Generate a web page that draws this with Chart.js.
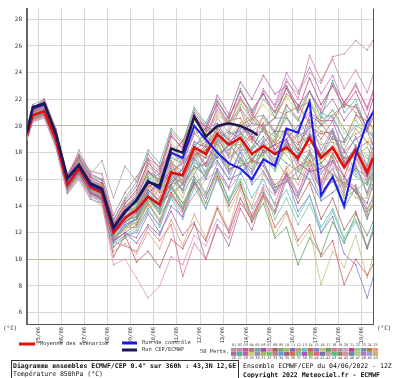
<!DOCTYPE html>
<html>
<head>
<meta charset="utf-8">
<script src="https://cdn.jsdelivr.net/npm/chart.js@4/dist/chart.umd.min.js"></script>
<style>
html, body { margin: 0; padding: 0; background: #fff; }
#myChart { display: block; }
</style>
</head>
<body>
<canvas id="myChart" width="400" height="378"></canvas>
<script>
/** échéances (heures depuis le run 04/06 12Z) */
var hours = [0, 6, 18, 30, 42, 54, 66, 78, 90, 102, 114, 126, 138, 150, 162, 174, 186, 198, 210, 222, 234, 246, 258, 270, 282, 294, 306, 318, 330, 342, 354, 360]
var cepHours = [0, 6, 18, 30, 42, 54, 66, 78, 90, 102, 114, 126, 138, 150, 162, 174, 186, 198, 210, 222, 234, 240]
/** graduations */
var dayTicks = [12, 36, 60, 84, 108, 132, 156, 180, 204, 228, 252, 276, 300, 324, 348]
var dayLabels = ['05/06', '06/06', '07/06', '08/06', '09/06', '10/06', '11/06', '12/06', '13/06', '14/06', '15/06', '16/06', '17/06', '18/06', '19/06']
var tempTicks = [6, 8, 10, 12, 14, 16, 18, 20, 22, 24, 26, 28]

/** moyenne, contrôle, CEP */
var moyenne = [19.3, 20.8, 21.1, 19.0, 15.6, 16.8, 15.4, 15.0, 12.0, 13.1, 13.7, 14.7, 14.1, 16.5, 16.3, 18.4, 17.9, 19.4, 18.6, 19.1, 17.9, 18.5, 17.9, 18.4, 17.6, 19.1, 17.6, 18.4, 16.9, 18.2, 16.5, 17.6]
var controle = [19.5, 21.3, 21.6, 19.5, 16.0, 17.0, 15.6, 15.2, 12.3, 13.5, 14.5, 15.9, 15.3, 18.0, 17.6, 20.0, 19.0, 18.0, 17.2, 16.8, 16.0, 17.5, 17.0, 19.8, 19.5, 21.8, 14.8, 16.2, 14.0, 17.8, 20.3, 21.0]
var cep = [19.6, 21.4, 21.7, 19.4, 16.1, 17.1, 15.7, 15.3, 12.4, 13.6, 14.4, 15.8, 15.5, 18.3, 18.0, 20.7, 19.2, 20.0, 20.2, 20.0, 19.6, 19.3]

/** 50 perturbations */
var pert01 = [19.4, 21.0, 21.4, 19.3, 15.9, 17.3, 15.8, 15.6, 12.5, 14.0, 14.6, 16.5, 15.8, 18.0, 17.2, 19.5, 18.4, 20.6, 19.5, 21.3, 20.2, 22.0, 21.0, 23.3, 22.4, 24.0, 23.2, 25.2, 25.4, 26.4, 25.7, 26.4]
var pert02 = [19.2, 20.9, 21.5, 19.4, 16.0, 17.5, 16.0, 15.4, 12.6, 13.8, 14.9, 17.0, 16.2, 18.6, 17.4, 20.1, 18.8, 21.5, 20.0, 22.2, 20.5, 22.8, 21.4, 23.5, 22.0, 25.3, 23.4, 25.0, 22.8, 24.2, 22.5, 23.8]
var pert03 = [19.6, 21.3, 22.0, 19.8, 16.4, 17.9, 16.4, 16.0, 13.0, 14.4, 15.5, 17.9, 16.8, 19.4, 18.2, 21.0, 19.8, 22.3, 20.9, 23.3, 22.0, 23.8, 22.4, 23.0, 21.5, 22.6, 21.0, 22.0, 20.4, 21.6, 19.8, 21.2]
var pert04 = [19.5, 21.1, 21.8, 19.6, 16.2, 17.8, 16.6, 16.4, 13.3, 15.0, 16.2, 17.5, 17.0, 17.8, 18.9, 20.5, 20.0, 19.4, 20.8, 22.0, 21.0, 19.8, 20.6, 22.4, 21.6, 20.2, 19.0, 20.4, 21.8, 21.0, 19.6, 20.6]
var pert05 = [19.1, 20.6, 21.0, 18.9, 15.4, 16.6, 15.2, 14.9, 11.8, 13.2, 13.9, 16.0, 16.4, 17.6, 17.2, 18.4, 19.6, 20.0, 18.2, 19.0, 20.6, 20.8, 19.4, 21.5, 20.6, 19.0, 20.1, 21.2, 19.8, 18.4, 17.0, 19.5]
var pert06 = [19.3, 20.8, 21.2, 19.0, 15.7, 16.9, 15.3, 15.0, 11.9, 12.8, 13.5, 15.2, 14.4, 15.6, 16.8, 18.8, 18.4, 17.6, 18.6, 20.0, 19.2, 18.0, 18.6, 19.0, 17.2, 16.6, 16.8, 17.4, 16.2, 15.0, 14.2, 15.6]
var pert07 = [19.0, 20.4, 20.6, 18.4, 15.0, 16.2, 14.8, 14.2, 9.6, 10.0, 8.6, 7.1, 8.0, 10.2, 9.6, 11.8, 11.0, 13.0, 12.2, 14.5, 13.4, 15.6, 14.8, 16.2, 15.0, 17.0, 15.4, 16.8, 15.2, 17.6, 16.0, 17.0]
var pert08 = [19.2, 20.7, 20.9, 18.8, 15.3, 16.5, 14.9, 14.5, 10.2, 11.8, 9.8, 10.6, 9.4, 11.5, 10.8, 12.6, 11.4, 13.8, 12.0, 14.6, 12.8, 15.0, 13.6, 16.4, 14.2, 15.8, 13.0, 14.6, 12.2, 13.6, 10.8, 12.0]
var pert09 = [19.6, 21.4, 21.9, 19.7, 16.1, 17.5, 15.9, 15.4, 12.4, 13.5, 14.0, 15.8, 15.2, 16.8, 15.0, 16.4, 17.8, 19.1, 18.6, 17.6, 18.4, 19.8, 19.2, 20.6, 19.6, 18.4, 17.6, 19.2, 18.2, 16.6, 15.8, 17.2]
var pert10 = [19.4, 20.9, 21.1, 19.1, 15.6, 16.7, 15.2, 14.8, 11.6, 12.4, 12.8, 14.0, 14.6, 15.6, 14.2, 15.4, 16.2, 18.4, 18.8, 17.4, 17.0, 18.0, 18.6, 17.8, 16.6, 17.2, 18.0, 17.6, 15.6, 14.6, 14.6, 16.0]
var pert11 = [19.7, 21.5, 21.6, 19.2, 15.5, 16.6, 15.0, 14.4, 11.4, 12.0, 11.2, 12.6, 11.8, 14.0, 13.2, 15.8, 14.6, 16.8, 15.4, 17.6, 16.4, 18.2, 17.0, 18.8, 17.4, 19.4, 17.8, 19.6, 17.2, 18.4, 16.2, 17.4]
var pert12 = [19.0, 20.6, 21.0, 19.2, 15.8, 17.0, 15.6, 15.3, 12.2, 13.4, 14.4, 15.9, 15.2, 16.2, 17.6, 19.6, 19.8, 18.6, 19.2, 20.2, 20.8, 19.8, 18.6, 18.2, 19.4, 20.5, 19.6, 18.8, 18.2, 19.8, 18.8, 18.8]
var pert13 = [19.3, 20.7, 21.0, 18.7, 15.1, 16.3, 14.7, 14.3, 11.0, 11.6, 12.2, 13.8, 12.4, 14.6, 13.0, 15.4, 13.8, 16.0, 14.2, 16.6, 14.6, 16.0, 14.0, 15.2, 13.2, 14.8, 12.4, 13.8, 11.6, 13.0, 10.8, 12.4]
var pert14 = [19.1, 20.5, 20.8, 18.6, 15.2, 16.4, 15.1, 14.6, 11.4, 12.0, 12.6, 14.2, 12.8, 15.0, 13.6, 15.8, 13.8, 16.2, 14.0, 15.6, 13.2, 14.8, 12.4, 13.6, 11.4, 12.6, 10.2, 11.4, 8.1, 10.0, 8.8, 9.6]
var pert15 = [19.5, 21.0, 21.3, 19.0, 15.4, 16.6, 15.0, 14.7, 11.6, 12.6, 13.0, 15.0, 14.0, 16.4, 15.2, 17.6, 16.0, 18.2, 16.4, 18.0, 15.8, 17.4, 15.0, 16.2, 13.6, 14.8, 12.0, 13.2, 10.4, 9.6, 7.1, 8.6]
var pert16 = [19.2, 20.6, 21.0, 18.8, 15.5, 16.8, 15.3, 14.9, 11.8, 12.9, 13.4, 15.4, 14.2, 16.2, 14.6, 16.8, 14.8, 16.4, 13.6, 15.2, 12.8, 14.6, 11.8, 13.4, 11.0, 12.2, 8.1, 10.6, 9.4, 11.8, 8.6, 10.2]
var pert17 = [19.4, 20.9, 21.2, 19.0, 15.6, 16.9, 15.5, 15.1, 12.1, 13.0, 13.2, 14.8, 13.4, 15.6, 13.8, 16.0, 14.2, 16.6, 14.4, 15.8, 12.8, 14.2, 11.6, 12.4, 9.6, 11.6, 10.4, 12.8, 11.2, 13.4, 11.8, 12.8]
var pert18 = [19.6, 21.2, 21.4, 19.1, 15.6, 16.7, 15.2, 14.7, 11.3, 11.0, 10.6, 12.4, 11.4, 12.6, 8.7, 11.2, 10.0, 12.4, 11.6, 14.2, 13.0, 15.4, 14.2, 16.6, 15.0, 17.4, 15.6, 18.0, 16.2, 18.6, 16.8, 18.0]
var pert19 = [19.8, 21.6, 22.0, 19.6, 16.0, 18.2, 16.4, 17.4, 14.6, 17.0, 15.8, 17.6, 15.4, 17.2, 15.6, 18.0, 16.4, 18.8, 17.0, 19.6, 17.2, 19.0, 16.8, 18.6, 16.0, 18.2, 15.6, 17.8, 15.0, 17.2, 14.8, 16.2]
var pert20 = [19.0, 20.5, 21.0, 19.0, 15.9, 17.1, 15.6, 15.2, 12.1, 13.3, 14.0, 15.6, 16.2, 17.2, 16.0, 17.4, 18.4, 19.6, 17.6, 18.2, 19.2, 18.6, 17.4, 18.8, 19.4, 19.6, 17.8, 17.0, 16.0, 17.6, 16.8, 16.8]
var pert21 = [19.5, 21.1, 21.7, 19.5, 16.2, 17.6, 16.2, 15.7, 12.7, 14.2, 15.2, 17.2, 16.4, 19.2, 18.4, 20.8, 19.6, 21.8, 20.6, 22.6, 21.2, 22.4, 21.0, 22.8, 21.2, 23.6, 21.6, 23.0, 21.4, 22.6, 20.6, 22.0]
var pert22 = [19.3, 20.8, 21.3, 19.2, 15.8, 17.0, 15.7, 15.4, 12.3, 13.6, 14.6, 16.4, 15.6, 18.2, 18.8, 20.0, 18.0, 19.0, 19.8, 21.6, 20.6, 19.6, 19.0, 21.2, 20.4, 21.6, 20.8, 19.4, 18.6, 20.4, 19.6, 19.4]
var pert23 = [19.2, 20.6, 20.9, 18.7, 15.3, 16.6, 15.2, 14.8, 11.7, 12.4, 13.2, 14.6, 13.8, 16.0, 15.2, 17.0, 16.2, 17.8, 16.6, 17.6, 15.6, 16.6, 15.0, 16.4, 14.8, 16.6, 14.6, 16.0, 13.8, 15.4, 13.0, 14.4]
var pert24 = [19.4, 21.0, 21.5, 19.3, 15.9, 17.1, 15.6, 15.2, 12.2, 13.6, 13.8, 15.4, 16.0, 17.4, 16.2, 17.8, 18.2, 19.8, 20.4, 20.6, 19.0, 18.2, 18.6, 19.8, 18.8, 19.2, 17.2, 18.2, 17.6, 17.8, 16.2, 17.0]
var pert25 = [19.1, 20.4, 20.7, 18.5, 15.0, 16.1, 14.6, 14.0, 10.6, 11.2, 10.4, 12.0, 10.8, 13.0, 11.0, 13.4, 11.6, 14.0, 12.2, 15.4, 14.0, 16.4, 15.0, 17.0, 15.6, 17.6, 16.0, 18.0, 16.2, 18.4, 16.6, 17.8]
var pert26 = [19.3, 20.8, 21.1, 18.9, 15.4, 16.6, 15.0, 14.5, 11.3, 12.0, 11.6, 13.4, 12.0, 13.6, 11.8, 12.8, 10.0, 12.6, 11.0, 13.8, 12.2, 14.8, 13.4, 16.0, 14.6, 16.8, 15.2, 17.4, 15.4, 17.0, 15.0, 16.4]
var pert27 = [19.6, 21.3, 21.8, 19.7, 16.3, 17.7, 16.3, 15.9, 12.9, 14.6, 15.8, 18.2, 17.2, 19.8, 18.8, 21.4, 20.2, 22.0, 20.4, 22.8, 21.0, 22.4, 20.6, 23.0, 21.0, 22.6, 20.6, 23.4, 21.0, 22.0, 19.6, 21.0]
var pert28 = [19.5, 21.1, 21.4, 19.0, 15.5, 16.8, 15.4, 15.1, 12.0, 13.2, 13.6, 15.6, 14.2, 15.0, 15.6, 18.2, 18.8, 19.2, 17.6, 18.4, 19.4, 19.6, 18.2, 19.4, 18.6, 20.0, 19.4, 19.6, 17.4, 18.2, 18.8, 18.2]
var pert29 = [19.2, 20.9, 21.3, 19.3, 15.9, 17.3, 15.9, 15.5, 12.4, 14.0, 14.8, 16.8, 16.0, 18.8, 17.8, 20.4, 19.4, 21.0, 20.2, 21.8, 20.4, 21.6, 20.6, 22.2, 21.0, 22.0, 20.2, 21.2, 19.4, 20.6, 18.6, 20.0]
var pert30 = [19.0, 20.3, 20.6, 18.4, 14.9, 16.0, 14.5, 14.2, 10.9, 11.8, 12.0, 13.6, 12.6, 14.8, 13.8, 16.2, 15.0, 17.2, 16.0, 18.2, 16.6, 18.8, 17.2, 19.6, 17.8, 20.4, 18.2, 19.8, 17.6, 19.2, 17.0, 18.4]
var pert31 = [19.7, 21.4, 21.8, 19.5, 16.0, 17.4, 15.8, 15.3, 12.2, 13.0, 12.6, 14.4, 15.2, 15.8, 16.4, 17.4, 18.2, 18.6, 17.0, 19.4, 18.8, 17.6, 17.0, 18.2, 17.4, 17.0, 15.6, 16.4, 15.8, 15.0, 13.4, 14.8]
var pert32 = [19.3, 20.9, 21.2, 19.0, 15.6, 16.8, 15.5, 15.0, 12.0, 13.4, 14.2, 16.2, 15.4, 15.8, 16.4, 18.6, 19.0, 19.4, 18.0, 17.2, 16.8, 18.2, 17.6, 16.2, 16.0, 18.0, 17.2, 16.2, 14.6, 15.2, 15.8, 15.2]
var pert33 = [19.4, 21.0, 21.6, 19.5, 16.1, 17.5, 16.1, 15.7, 12.6, 14.2, 15.0, 17.4, 16.6, 19.6, 18.6, 21.2, 20.0, 21.6, 20.2, 21.2, 19.0, 20.2, 18.0, 19.0, 16.8, 18.0, 15.8, 16.8, 14.8, 15.6, 13.8, 14.6]
var pert34 = [19.1, 20.6, 20.9, 18.8, 15.4, 16.6, 15.1, 14.7, 11.5, 12.6, 13.0, 14.8, 13.6, 16.0, 16.8, 17.6, 16.6, 18.8, 19.4, 19.6, 18.2, 20.0, 20.6, 20.6, 19.2, 19.8, 21.0, 20.6, 19.0, 20.0, 19.6, 19.2]
var pert35 = [19.6, 21.2, 21.5, 19.2, 15.7, 16.9, 15.4, 14.9, 11.9, 12.8, 13.4, 15.0, 15.6, 16.4, 15.6, 16.8, 17.2, 19.0, 19.6, 19.0, 17.4, 18.8, 19.6, 19.6, 18.2, 20.8, 20.2, 19.0, 18.8, 20.8, 20.4, 19.8]
var pert36 = [19.2, 20.7, 21.1, 19.1, 15.7, 17.0, 15.6, 15.3, 12.3, 13.6, 14.4, 16.0, 15.0, 15.6, 16.0, 18.0, 17.6, 18.2, 16.8, 17.0, 17.4, 17.2, 15.6, 16.2, 17.0, 17.4, 15.2, 15.8, 16.0, 15.4, 13.2, 14.0]
var pert37 = [19.0, 20.4, 20.7, 18.5, 15.1, 16.3, 14.8, 14.4, 11.2, 11.8, 12.4, 14.2, 13.0, 15.0, 14.0, 16.2, 14.8, 16.4, 14.6, 16.0, 13.8, 15.2, 13.0, 14.6, 12.6, 14.2, 12.0, 13.6, 11.4, 12.8, 11.0, 12.2]
var pert38 = [19.5, 21.0, 21.4, 19.3, 15.8, 17.2, 15.8, 15.4, 12.4, 13.8, 14.6, 16.6, 15.8, 16.6, 17.2, 19.4, 19.8, 20.2, 18.8, 19.4, 20.2, 20.0, 18.2, 19.0, 20.0, 21.0, 20.4, 20.4, 18.0, 19.0, 19.6, 18.6]
var pert39 = [19.3, 20.8, 21.1, 18.9, 15.4, 16.7, 15.3, 14.8, 11.6, 12.2, 12.8, 14.6, 13.4, 14.6, 15.8, 17.0, 16.4, 17.8, 18.6, 18.6, 17.2, 17.8, 19.0, 19.8, 18.2, 18.6, 19.6, 19.4, 17.2, 17.8, 18.4, 17.6]
var pert40 = [19.4, 20.9, 21.3, 19.1, 15.6, 16.9, 15.5, 15.1, 12.1, 13.2, 13.8, 15.8, 14.6, 17.0, 15.8, 18.2, 17.0, 19.0, 17.8, 20.2, 18.8, 20.8, 19.6, 21.6, 20.4, 22.6, 21.2, 23.2, 21.8, 23.0, 21.4, 22.6]
var pert41 = [19.1, 20.5, 20.9, 18.8, 15.3, 16.5, 15.0, 14.6, 11.4, 12.4, 13.0, 14.4, 13.8, 15.4, 14.2, 15.6, 16.4, 17.4, 16.0, 16.4, 17.4, 17.0, 15.4, 15.8, 16.6, 16.0, 14.4, 15.0, 15.8, 15.2, 13.6, 14.0]
var pert42 = [19.6, 21.3, 21.7, 19.5, 16.1, 17.4, 15.9, 15.5, 12.4, 13.8, 14.2, 16.2, 16.8, 17.8, 17.0, 18.4, 19.4, 20.8, 20.2, 21.4, 19.6, 20.2, 21.2, 20.8, 19.0, 19.6, 20.6, 20.8, 18.8, 19.4, 19.8, 19.2]
var pert43 = [19.2, 20.6, 21.0, 18.9, 15.5, 16.7, 15.3, 14.9, 11.8, 12.8, 13.2, 15.2, 14.2, 15.2, 16.4, 17.2, 17.0, 18.0, 16.8, 17.0, 17.8, 17.8, 16.6, 18.6, 18.0, 17.0, 17.2, 18.4, 17.0, 16.2, 15.6, 16.8]
var pert44 = [19.5, 21.0, 21.2, 19.0, 15.5, 16.8, 15.4, 15.0, 11.9, 13.0, 13.6, 15.4, 16.0, 17.2, 16.6, 17.6, 18.6, 19.8, 19.0, 20.0, 20.6, 19.6, 18.8, 21.0, 21.4, 21.8, 20.0, 20.8, 21.6, 21.4, 19.8, 21.0]
var pert45 = [19.0, 20.4, 20.8, 18.7, 15.3, 16.4, 14.9, 14.6, 11.5, 12.4, 12.4, 13.8, 14.4, 14.8, 13.4, 14.8, 16.0, 16.6, 15.2, 16.4, 17.6, 16.6, 15.2, 16.8, 17.8, 18.2, 16.6, 17.2, 17.6, 17.6, 15.8, 16.4]
var pert46 = [19.4, 21.1, 21.5, 19.4, 16.0, 17.3, 15.9, 15.6, 12.6, 13.9, 14.7, 16.6, 16.0, 18.0, 17.4, 18.2, 17.6, 19.6, 19.0, 18.2, 18.2, 19.2, 18.0, 17.2, 16.6, 17.8, 17.0, 16.4, 15.6, 16.8, 16.2, 16.0]
var pert47 = [19.3, 20.7, 21.0, 18.9, 15.5, 16.8, 15.5, 15.2, 12.2, 13.4, 13.6, 15.0, 15.8, 16.2, 15.2, 17.6, 18.4, 18.8, 17.2, 18.6, 20.0, 20.6, 19.4, 18.8, 18.2, 19.4, 18.8, 17.6, 17.0, 18.4, 17.8, 17.6]
var pert48 = [19.6, 21.2, 21.7, 19.6, 16.2, 17.6, 16.0, 15.5, 12.5, 14.0, 14.6, 16.6, 15.8, 18.4, 17.6, 20.4, 19.4, 21.2, 20.2, 22.0, 20.8, 22.6, 21.6, 24.0, 22.6, 24.4, 22.4, 23.8, 21.6, 23.2, 21.2, 22.4]
var pert49 = [19.2, 20.8, 21.2, 19.1, 15.7, 16.9, 15.4, 15.0, 11.9, 12.6, 13.0, 14.8, 14.0, 16.6, 17.2, 18.2, 17.2, 18.0, 18.2, 19.8, 19.4, 18.4, 17.8, 18.8, 18.2, 17.4, 16.4, 17.8, 17.2, 16.4, 15.6, 16.6]
var pert50 = [19.4, 20.9, 21.3, 19.2, 15.8, 17.0, 15.6, 15.2, 12.1, 13.2, 14.0, 15.6, 15.0, 17.2, 17.8, 18.4, 17.0, 17.6, 18.6, 18.8, 17.6, 18.4, 19.0, 18.6, 17.4, 19.4, 18.6, 18.8, 17.2, 18.2, 17.6, 17.2]

var perts = [pert01, pert02, pert03, pert04, pert05, pert06, pert07, pert08, pert09, pert10,
    pert11, pert12, pert13, pert14, pert15, pert16, pert17, pert18, pert19, pert20,
    pert21, pert22, pert23, pert24, pert25, pert26, pert27, pert28, pert29, pert30,
    pert31, pert32, pert33, pert34, pert35, pert36, pert37, pert38, pert39, pert40,
    pert41, pert42, pert43, pert44, pert45, pert46, pert47, pert48, pert49, pert50]

/** couleurs des perturbations (légende 01..50) */
var pertColors = ['#c09090', '#d080b0', '#b060a0', '#c07070', '#70a8a8', '#a050b0', '#e090c0', '#b06060', '#80a080', '#a0c060',
    '#9060c0', '#c0a060', '#60c0c0', '#d06060', '#8080d0', '#c0c080', '#60a060', '#e07090', '#a0a0a0', '#d0a0d0',
    '#c04080', '#90d090', '#7090b0', '#b08040', '#e0a080', '#a070a0', '#50b0a0', '#c06090', '#d0d060', '#9090c0',
    '#b0b060', '#70c070', '#c08080', '#60a0d0', '#a06080', '#d07040', '#80c0a0', '#b050c0', '#90b050', '#e06080',
    '#7070b0', '#c0a0a0', '#50c080', '#a08060', '#d090a0', '#6090a0', '#b0d080', '#c070d0', '#90a0d0', '#d0b070']

var meteoPage = {
    init: function () {
        Chart.defaults.font.family = '"DejaVu Sans Mono", monospace'
        meteoPage.funcs.createChart()
    },
    funcs: {
        toPoints: function (xs, ys) {
            return ys.map(function (y, i) { return { x: xs[i], y: y } })
        },
        buildDatasets: function () {
            var sets = []
            /** dataset 0 est dessiné au-dessus */
            sets.push({ label: 'Run CEP/ECMWF', data: meteoPage.funcs.toPoints(cepHours, cep), borderColor: '#1a1a50', borderWidth: 2.5, pointRadius: 0 })
            sets.push({ label: 'Run de contrôle', data: meteoPage.funcs.toPoints(hours, controle), borderColor: '#1a1ae8', borderWidth: 2, pointRadius: 0 })
            sets.push({ label: 'Moyenne des scénarios', data: meteoPage.funcs.toPoints(hours, moyenne), borderColor: '#e01010', borderWidth: 2.6, pointRadius: 0 })
            perts.forEach(function (p, i) {
                sets.push({
                    label: 'P' + (i + 1),
                    data: meteoPage.funcs.toPoints(hours, p),
                    borderColor: pertColors[i] + 'c8',
                    borderWidth: 1,
                    pointRadius: 0.8,
                    pointBorderWidth: 0,
                    pointBackgroundColor: pertColors[i]
                })
            })
            return sets
        },
        drawExtras: function (chart) {
            var ctx = chart.ctx
            var area = chart.chartArea
            ctx.save()
            /** cadre droit */
            ctx.strokeStyle = '#555'
            ctx.lineWidth = 1
            ctx.beginPath()
            ctx.moveTo(area.right + 0.5, area.top)
            ctx.lineTo(area.right + 0.5, area.bottom)
            ctx.stroke()

            ctx.textBaseline = 'middle'
            ctx.textAlign = 'left'
            ctx.fillStyle = '#333'
            ctx.font = '6px "DejaVu Sans Mono"'
            ctx.fillText('(°C)', 3, 328)
            ctx.fillText('(°C)', 377, 328)

            /** légende */
            ctx.lineWidth = 3
            ctx.strokeStyle = '#e01010'
            ctx.beginPath(); ctx.moveTo(19, 344); ctx.lineTo(35, 344); ctx.stroke()
            ctx.strokeStyle = '#1a1ae8'
            ctx.beginPath(); ctx.moveTo(122, 343); ctx.lineTo(137, 343); ctx.stroke()
            ctx.strokeStyle = '#1a1a50'
            ctx.beginPath(); ctx.moveTo(122, 350); ctx.lineTo(137, 350); ctx.stroke()
            ctx.font = '5.4px "DejaVu Sans Mono"'
            ctx.fillStyle = '#333'
            ctx.fillText('Moyenne des scénarios', 40, 344)
            ctx.fillText('Run de contrôle', 142, 343)
            ctx.fillText('Run CEP/ECMWF', 142, 350)
            ctx.fillText('50 Perts.', 200, 352)

            /** cases des perturbations */
            ctx.font = '3.6px "DejaVu Sans Mono"'
            ctx.textAlign = 'center'
            pertColors.forEach(function (c, i) {
                var col = i % 25
                var row = Math.floor(i / 25)
                var x = 231 + col * 5.9
                var y = 348 + row * 4
                ctx.fillStyle = c
                ctx.fillRect(x, y, 5.5, 3.8)
                ctx.fillStyle = '#444'
                var txt = (i + 1 < 10 ? '0' : '') + (i + 1)
                ctx.fillText(txt, x + 2.9, row === 0 ? 345.5 : 358.5)
            })

            /** cartouche */
            ctx.strokeStyle = '#333'
            ctx.lineWidth = 1
            ctx.strokeRect(11.5, 360.5, 227, 22)
            ctx.textAlign = 'left'
            ctx.fillStyle = '#111'
            ctx.font = 'bold 6.5px "DejaVu Sans Mono"'
            ctx.fillText('Diagramme ensembles ECMWF/CEP 0.4° sur 360h : 43,3N 12,6E', 13, 366)
            ctx.font = '6.5px "DejaVu Sans Mono"'
            ctx.fillText('Température 850hPa (°C)', 13, 374)
            ctx.fillText('Ensemble ECMWF/CEP du 04/06/2022 - 12Z', 243, 366)
            ctx.font = 'bold 6.5px "DejaVu Sans Mono"'
            ctx.fillText('Copyright 2022 Meteociel.fr - ECMWF', 243, 375)
            ctx.restore()
        },
        createChart: function () {
            var ctx = document.getElementById('myChart').getContext('2d')
            var myChart = new Chart(ctx, {
                type: 'line',
                data: { datasets: meteoPage.funcs.buildDatasets() },
                options: {
                    responsive: false,
                    animation: false,
                    devicePixelRatio: 1,
                    layout: { padding: { left: 0, right: 27, top: 0, bottom: 0 } },
                    elements: { line: { tension: 0, fill: false } },
                    plugins: { legend: { display: false }, tooltip: { enabled: false } },
                    scales: {
                        x: {
                            type: 'linear',
                            min: 0,
                            max: 360,
                            afterBuildTicks: function (scale) {
                                scale.ticks = dayTicks.map(function (v) { return { value: v } })
                            },
                            afterFit: function (scale) { scale.height = 54 },
                            ticks: {
                                autoSkip: false,
                                minRotation: 90,
                                maxRotation: 90,
                                padding: 3,
                                color: '#333',
                                font: { size: 5.5 },
                                callback: function (v, i) { return dayLabels[i] }
                            },
                            grid: { color: '#d6d6d6', drawTicks: false },
                            border: { color: '#555', width: 1 }
                        },
                        y: {
                            min: 5.15,
                            max: 28.8,
                            afterBuildTicks: function (scale) {
                                scale.ticks = tempTicks.map(function (v) { return { value: v } })
                            },
                            afterFit: function (scale) { scale.width = 27 },
                            ticks: { padding: 5, color: '#333', font: { size: 6 } },
                            grid: {
                                drawTicks: false,
                                color: function (c) {
                                    var v = c.tick && c.tick.value
                                    return (v === 10 || v === 20) ? '#c4b4a4' : '#dadada'
                                }
                            },
                            border: { color: '#666', width: 2 }
                        }
                    }
                },
                plugins: [{ id: 'extras', afterDraw: meteoPage.funcs.drawExtras }]
            })
        }
    }
}
meteoPage.init()
</script>
</body>
</html>
